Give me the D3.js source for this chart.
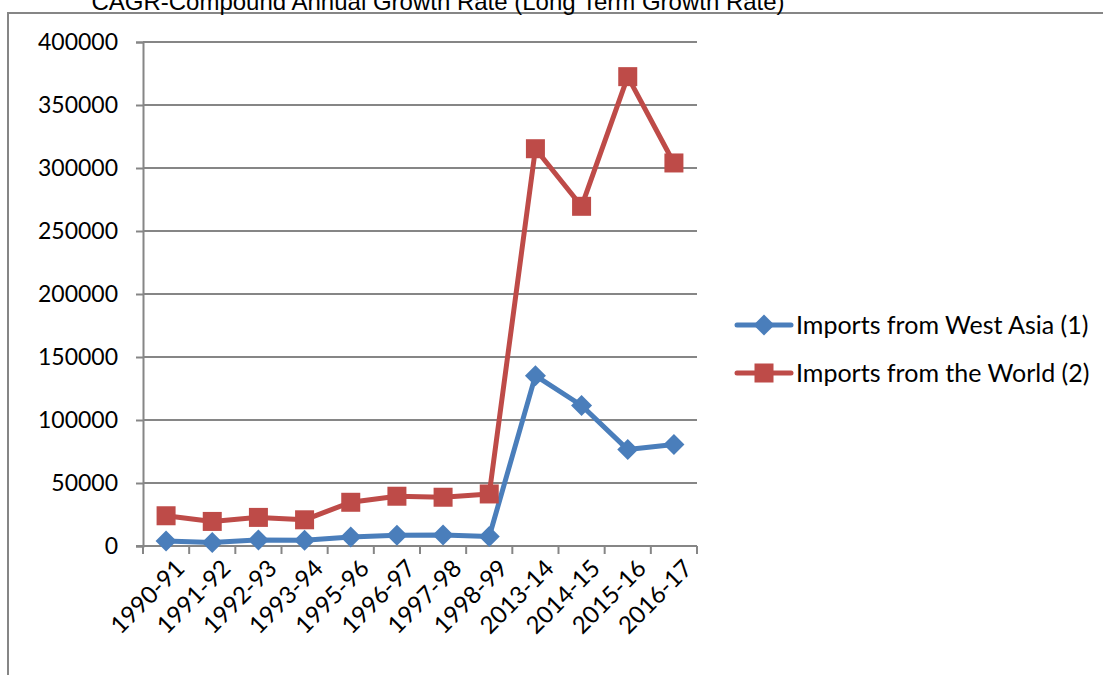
<!DOCTYPE html>
<html>
<head>
<meta charset="utf-8">
<script src="https://cdn.jsdelivr.net/npm/d3@7"></script>
<style>
  html, body { margin: 0; padding: 0; background: #fff; }
  svg { display: block; }
</style>
</head>
<body>
<svg id="chart" width="1103" height="675"></svg>
<script>
// Fiscal years on the category axis
const years = ["1990-91", "1991-92", "1992-93", "1993-94", "1995-96", "1996-97",
               "1997-98", "1998-99", "2013-14", "2014-15", "2015-16", "2016-17"];

// Imports from West Asia (1)
const westAsia = [4000, 2700, 4800, 4500, 7200, 8500, 8800, 7500, 135200, 111500, 76500, 80500];

// Imports from the World (2)
const world = [24000, 19500, 22700, 20800, 34700, 39500, 38700, 41300, 315300, 269600, 372500, 304000];

const yTicks = [0, 50000, 100000, 150000, 200000, 250000, 300000, 350000, 400000];

const seriesNames = ["Imports from West Asia (1)", "Imports from the World (2)"];
const title = "CAGR-Compound Annual Growth Rate (Long Term Growth Rate)";

const svg = d3.select("#chart");
const gridColor = "#868686";
const labelFont = "Lato, 'Open Sans', sans-serif";

const plot = { left: 143, right: 697, top: 42, bottom: 546 };

// Outer frame (top and left edges visible)
svg.append("path")
  .attr("d", "M8,680 L8,13 L1110,13")
  .attr("fill", "none")
  .attr("stroke", gridColor)
  .attr("stroke-width", 2);

// Title, sitting just above the frame
svg.append("text")
  .attr("x", 438)
  .attr("y", 10)
  .attr("text-anchor", "middle")
  .attr("font-family", "'Liberation Sans', Arial, sans-serif")
  .attr("font-size", 24)
  .attr("fill", "#000")
  .text(title);

const x = d3.scaleBand().domain(years).range([plot.left, plot.right]).padding(0);
const y = d3.scaleLinear().domain([0, 400000]).range([plot.bottom, plot.top]);
const cx = d => x(d) + x.bandwidth() / 2;

// Horizontal gridlines
svg.append("g")
  .selectAll("line")
  .data(yTicks.filter(t => t > 0))
  .join("line")
  .attr("x1", plot.left).attr("x2", plot.right)
  .attr("y1", d => y(d)).attr("y2", d => y(d))
  .attr("stroke", gridColor).attr("stroke-width", 2);

// Y axis
const yAxis = svg.append("g")
  .attr("transform", `translate(${plot.left},0)`)
  .call(d3.axisLeft(y).tickValues(yTicks).tickSize(7).tickPadding(18).tickFormat(d3.format("d")));
yAxis.select(".domain").attr("stroke", gridColor).attr("stroke-width", 2);
yAxis.selectAll(".tick line").attr("stroke", gridColor).attr("stroke-width", 2);
yAxis.selectAll(".tick text")
  .attr("font-family", labelFont).attr("font-size", 23).attr("fill", "#000");

// X axis with ticks at category boundaries
const xAxis = svg.append("g")
  .attr("transform", `translate(0,${plot.bottom})`);
xAxis.append("line")
  .attr("x1", plot.left - 7).attr("x2", plot.right)
  .attr("y1", 0).attr("y2", 0)
  .attr("stroke", gridColor).attr("stroke-width", 2);
xAxis.selectAll("line.tick")
  .data(years.concat(["__end"]))
  .join("line")
  .attr("class", "tick")
  .attr("x1", (d, i) => plot.left + i * x.bandwidth())
  .attr("x2", (d, i) => plot.left + i * x.bandwidth())
  .attr("y1", 0).attr("y2", 8)
  .attr("stroke", gridColor).attr("stroke-width", 2);
xAxis.selectAll("text")
  .data(years)
  .join("text")
  .attr("transform", d => `translate(${cx(d) + 8},${12}) rotate(-45)`)
  .attr("text-anchor", "end")
  .attr("dy", "0.7em")
  .attr("font-family", labelFont).attr("font-size", 24).attr("fill", "#000")
  .text(d => d);

// Series lines and markers
const series = [
  { name: seriesNames[0], values: westAsia, color: "#4a7ebb", marker: "diamond" },
  { name: seriesNames[1], values: world, color: "#be4b48", marker: "square" }
];

const line = d3.line().x((d, i) => cx(years[i])).y(d => y(d));

function drawMarker(g, type, color) {
  if (type === "diamond") {
    g.append("path").attr("d", "M0,-10.5 L10.5,0 L0,10.5 L-10.5,0 Z").attr("fill", color);
  } else {
    g.append("rect").attr("x", -9.5).attr("y", -9.5).attr("width", 19).attr("height", 19).attr("fill", color);
  }
}

series.forEach(s => {
  svg.append("path")
    .datum(s.values)
    .attr("d", line)
    .attr("fill", "none")
    .attr("stroke", s.color)
    .attr("stroke-width", 5)
    .attr("stroke-linejoin", "round");
  const mg = svg.append("g");
  s.values.forEach((v, i) => {
    const g = mg.append("g").attr("transform", `translate(${cx(years[i])},${y(v)})`);
    drawMarker(g, s.marker, s.color);
  });
});

// Legend
const legend = svg.append("g");
series.forEach((s, i) => {
  const ly = 325 + i * 48;
  const g = legend.append("g").attr("transform", `translate(0,${ly})`);
  g.append("line").attr("x1", 737).attr("x2", 791).attr("y1", 0).attr("y2", 0)
    .attr("stroke", s.color).attr("stroke-width", 5).attr("stroke-linecap", "round");
  const mg = g.append("g").attr("transform", "translate(764,0)");
  drawMarker(mg, s.marker, s.color);
  g.append("text").attr("x", 796).attr("y", 0).attr("dy", "0.35em")
    .attr("font-family", labelFont).attr("font-size", 25)
    .attr("fill", "#000")
    .text(s.name);
});
</script>
</body>
</html>
